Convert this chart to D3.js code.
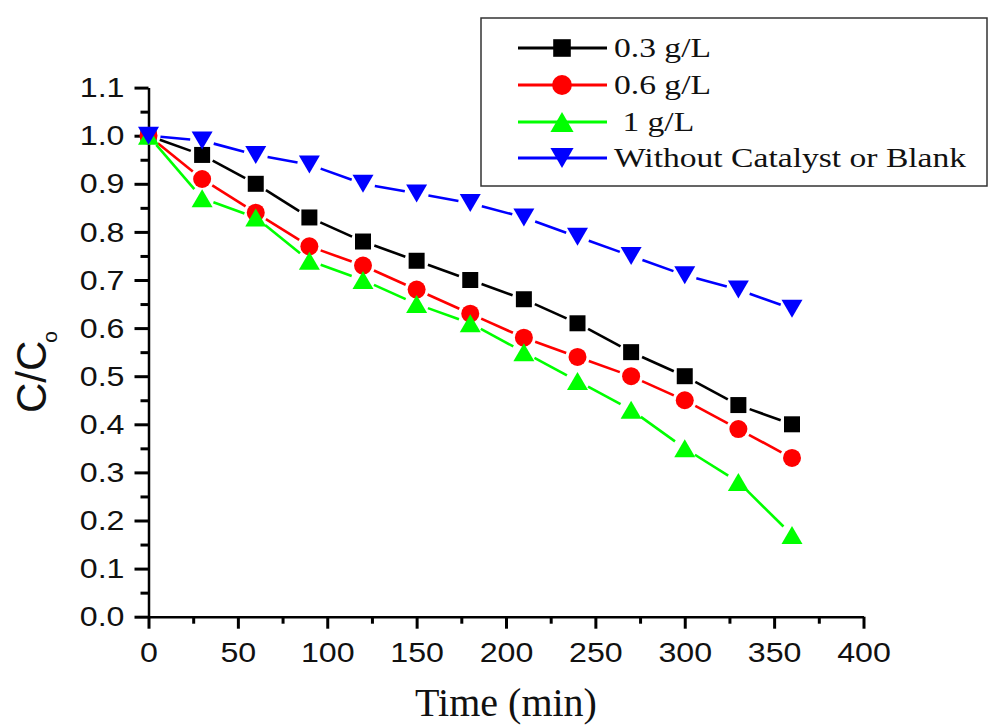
<!DOCTYPE html>
<html><head><meta charset="utf-8">
<script src="https://cdn.jsdelivr.net/npm/d3@7"></script>
<style>body{margin:0;background:#fff}svg{display:block}</style>
</head><body>
<svg id="chart" width="988" height="727"></svg>
<script>
// ---- data ----
const times = [0, 30, 60, 90, 120, 150, 180, 210, 240, 270, 300, 330, 360];
const seriesNames = ["0.3 g/L", "0.6 g/L", " 1 g/L", "Without Catalyst or Blank"];
const values03 = [1.00, 0.96, 0.90, 0.83, 0.78, 0.74, 0.70, 0.66, 0.61, 0.55, 0.50, 0.44, 0.40];
const values06 = [1.00, 0.91, 0.84, 0.77, 0.73, 0.68, 0.63, 0.58, 0.54, 0.50, 0.45, 0.39, 0.33];
const values1  = [1.00, 0.87, 0.83, 0.74, 0.70, 0.65, 0.61, 0.55, 0.49, 0.43, 0.35, 0.28, 0.17];
const valuesBlank = [1.00, 0.99, 0.96, 0.94, 0.90, 0.88, 0.86, 0.83, 0.79, 0.75, 0.71, 0.68, 0.64];
const seriesColors = ["#000000", "#ff0000", "#00ff00", "#0000ff"];
const seriesShapes = ["square", "circle", "triangle", "triangleDown"];
const xTicks = [0, 50, 100, 150, 200, 250, 300, 350, 400];
const xMinorTicks = [25, 75, 125, 175, 225, 275, 325, 375];
const yTicks = [0, 0.1, 0.2, 0.3, 0.4, 0.5, 0.6, 0.7, 0.8, 0.9, 1.0, 1.1];
const yMinorTicks = [0.05, 0.15, 0.25, 0.35, 0.45, 0.55, 0.65, 0.75, 0.85, 0.95, 1.05];

const allValues = [values03, values06, values1, valuesBlank];
const series = seriesNames.map((name, i) => ({
  name, color: seriesColors[i], shape: seriesShapes[i],
  points: times.map((t, j) => ({t, v: allValues[i][j]}))
}));

// ---- layout ----
const svg = d3.select("#chart");
const x = d3.scaleLinear().domain([0, 400]).range([148.5, 863.5]);
const y = d3.scaleLinear().domain([0, 1.1]).range([616.7, 87.6]);
const x0 = x(0), y0 = y(0);
const sansFont = "'Liberation Sans', Arial, sans-serif";
const serifFont = "'Liberation Serif', 'Times New Roman', serif";
const stretch = 1.13;

function shapePath(shape, s) {
  if (shape === "square") { const h = 8 * s; return `M${-h},${-h}H${h}V${h}H${-h}Z`; }
  if (shape === "circle") { const r = 9 * s; return `M${r},0A${r},${r} 0 1,1 ${-r},0A${r},${r} 0 1,1 ${r},0Z`; }
  if (shape === "triangle") { const w = 10.5 * s, h = 9 * s; return `M0,${-h}L${w},${h}L${-w},${h}Z`; }
  const w = 10.5 * s, h = 9 * s; return `M0,${h}L${w},${-h}L${-w},${-h}Z`;
}

// ---- axes ----
const yAxis = svg.append("g").attr("transform", `translate(${x0},0)`)
  .call(d3.axisLeft(y).tickValues(yTicks).tickSize(14).tickSizeOuter(0).tickPadding(10)
    .tickFormat(d3.format(".1f")));
const yMinor = svg.append("g").attr("transform", `translate(${x0},0)`)
  .call(d3.axisLeft(y).tickValues(yMinorTicks).tickSize(8).tickFormat(""));
yMinor.select(".domain").remove();

const xAxis = svg.append("g").attr("transform", `translate(0,${y0})`)
  .call(d3.axisBottom(x).tickValues(xTicks).tickSize(12).tickSizeOuter(0).tickPadding(13)
    .tickFormat(d3.format("d")));
const xMinor = svg.append("g").attr("transform", `translate(0,${y0})`)
  .call(d3.axisBottom(x).tickValues(xMinorTicks).tickSize(7).tickFormat(""));
xMinor.select(".domain").remove();

svg.selectAll(".domain").attr("stroke", "#000").attr("stroke-width", 2.5);
svg.selectAll(".tick line").attr("stroke", "#000").attr("stroke-width", 3);
svg.selectAll(".tick text").attr("fill", "#111").attr("font-family", sansFont).attr("font-size", 28.5);
yAxis.selectAll(".tick text").each(function() {
  const t = d3.select(this); const xv = +t.attr("x");
  t.attr("x", xv / stretch).attr("transform", `scale(${stretch},1)`);
});
xAxis.selectAll(".tick text").attr("transform", `scale(${stretch},1)`);

// axis titles
const yTitle = svg.append("text")
  .attr("transform", `translate(46,413) rotate(-90)`)
  .attr("font-family", sansFont).attr("font-size", 42).attr("fill", "#111");
yTitle.append("tspan").text("C/C");
yTitle.append("tspan").attr("font-size", 21).attr("dx", -2).attr("dy", 11).text("o");

svg.append("text").attr("x", (x(0) + x(400)) / 2).attr("y", 716)
  .attr("text-anchor", "middle").attr("font-family", serifFont).attr("font-size", 40)
  .attr("fill", "#111").text("Time (min)");

// ---- series ----
const gap = 12;
series.forEach(s => {
  const g = svg.append("g");
  const segs = d3.pairs(s.points).map(([a, b]) => {
    const ax = x(a.t), ay = y(a.v), bx = x(b.t), by = y(b.v);
    const dx = bx - ax, dy = by - ay, len = Math.hypot(dx, dy);
    const ux = dx / len, uy = dy / len;
    return [ax + ux * gap, ay + uy * gap, bx - ux * gap, by - uy * gap];
  });
  g.selectAll("line").data(segs).join("line")
    .attr("x1", d => d[0]).attr("y1", d => d[1]).attr("x2", d => d[2]).attr("y2", d => d[3])
    .attr("stroke", s.color).attr("stroke-width", 2.6);
  g.selectAll("path").data(s.points).join("path")
    .attr("transform", d => `translate(${x(d.t)},${y(d.v)})`)
    .attr("d", shapePath(s.shape, 1)).attr("fill", s.color);
});

// ---- legend ----
const leg = svg.append("g");
leg.append("rect").attr("x", 481).attr("y", 18).attr("width", 506).attr("height", 168)
  .attr("fill", "#fff").attr("stroke", "#333").attr("stroke-width", 1.5);
const legRows = [48, 85, 122, 158];
series.forEach((s, i) => {
  const cy = legRows[i];
  leg.append("line").attr("x1", 518).attr("x2", 607).attr("y1", cy).attr("y2", cy)
    .attr("stroke", s.color).attr("stroke-width", 3);
  leg.append("path").attr("transform", `translate(562,${cy})`)
    .attr("d", shapePath(s.shape, 1.1)).attr("fill", s.color);
  leg.append("text").attr("transform", `translate(614,${cy + 9}) scale(1.2,1)`)
    .attr("font-family", serifFont).attr("font-size", 28).attr("fill", "#111")
    .attr("xml:space", "preserve").style("white-space", "pre").text(s.name);
});
</script>
</body></html>
